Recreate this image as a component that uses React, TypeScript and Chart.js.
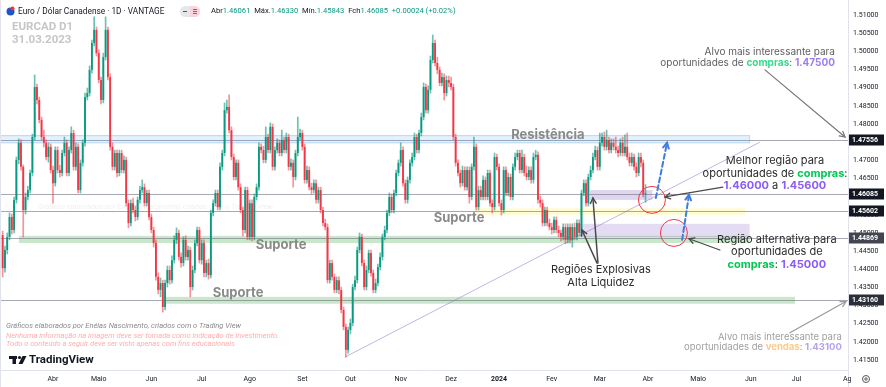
import React, { useEffect, useRef } from 'react';
import { Chart, registerables } from 'chart.js';
Chart.register(...registerables);

// ---- EURCAD daily candles (index = trading day from 2 Mar 2023) ----
const opens = [
  1.4494, 1.4403, 1.4453, 1.4489, 1.4544, 1.4508, 1.4591, 1.4701, 1.4748, 1.4682,
  1.4563, 1.4599, 1.4618, 1.4665, 1.4764, 1.4902, 1.4866, 1.4811, 1.4764, 1.4748,
  1.4709, 1.4737, 1.4673, 1.4637, 1.4728, 1.4673, 1.4665, 1.4720, 1.4748, 1.4665,
  1.4728, 1.4775, 1.4682, 1.4737, 1.4618, 1.4693, 1.4748, 1.4874, 1.4885, 1.4949,
  1.5023, 1.5059, 1.4995, 1.4921, 1.4866, 1.4984, 1.5059, 1.4929, 1.4737, 1.4682,
  1.4720, 1.4665, 1.4720, 1.4673, 1.4701, 1.4582, 1.4527, 1.4582, 1.4563, 1.4544,
  1.4591, 1.4618, 1.4626, 1.4582, 1.4610, 1.4544, 1.4508, 1.4472, 1.4379, 1.4343,
  1.4362, 1.4296, 1.4362, 1.4398, 1.4370, 1.4425, 1.4481, 1.4500, 1.4434, 1.4417,
  1.4481, 1.4434, 1.4453, 1.4351, 1.4398, 1.4472, 1.4508, 1.4425, 1.4472, 1.4390,
  1.4417, 1.4384, 1.4555, 1.4582, 1.4610, 1.4571, 1.4682, 1.4720, 1.4838, 1.4847,
  1.4783, 1.4709, 1.4654, 1.4693, 1.4626, 1.4563, 1.4508, 1.4618, 1.4489, 1.4582,
  1.4489, 1.4599, 1.4626, 1.4737, 1.4728, 1.4701, 1.4764, 1.4728, 1.4792, 1.4682,
  1.4728, 1.4748, 1.4720, 1.4756, 1.4728, 1.4764, 1.4682, 1.4693, 1.4654, 1.4720,
  1.4764, 1.4775, 1.4737, 1.4646, 1.4673, 1.4626, 1.4618, 1.4637, 1.4591, 1.4618,
  1.4563, 1.4527, 1.4516, 1.4370, 1.4417, 1.4379, 1.4343, 1.4370, 1.4343, 1.4288,
  1.4241, 1.4178, 1.4233, 1.4252, 1.4351, 1.4370, 1.4453, 1.4489, 1.4417, 1.4351,
  1.4398, 1.4445, 1.4390, 1.4343, 1.4362, 1.4406, 1.4434, 1.4489, 1.4508, 1.4555,
  1.4599, 1.4563, 1.4610, 1.4665, 1.4693, 1.4728, 1.4637, 1.4591, 1.4646, 1.4693,
  1.4709, 1.4764, 1.4728, 1.4775, 1.4819, 1.4902, 1.4838, 1.4894, 1.4976, 1.5023,
  1.4968, 1.4949, 1.4913, 1.4929, 1.4885, 1.4921, 1.4913, 1.4902, 1.4764, 1.4693,
  1.4665, 1.4637, 1.4673, 1.4626, 1.4673, 1.4599, 1.4682, 1.4737, 1.4571, 1.4618,
  1.4599, 1.4646, 1.4599, 1.4665, 1.4582, 1.4571, 1.4709, 1.4682, 1.4582, 1.4563,
  1.4673, 1.4610, 1.4654, 1.4599, 1.4682, 1.4709, 1.4720, 1.4673, 1.4709, 1.4665,
  1.4654, 1.4673, 1.4646, 1.4709, 1.4715, 1.4591, 1.4582, 1.4527, 1.4563, 1.4527,
  1.4516, 1.4508, 1.4536, 1.4508, 1.4500, 1.4489, 1.4516, 1.4481, 1.4516, 1.4481,
  1.4516, 1.4489, 1.4527, 1.4500, 1.4610, 1.4637, 1.4582, 1.4654, 1.4673, 1.4709,
  1.4728, 1.4682, 1.4748, 1.4764, 1.4737, 1.4756, 1.4728, 1.4748, 1.4737, 1.4728,
  1.4720, 1.4748, 1.4720, 1.4737, 1.4709, 1.4693, 1.4709, 1.4682, 1.4665, 1.4709,
  1.4693, 1.46061,
];
const highs = [
  1.4505, 1.4464, 1.4500, 1.4555, 1.4552, 1.4599, 1.4709, 1.4759, 1.4756, 1.4687,
  1.4610, 1.4629, 1.4673, 1.4772, 1.4935, 1.4910, 1.4874, 1.4819, 1.4783, 1.4756,
  1.4748, 1.4745, 1.4684, 1.4737, 1.4737, 1.4687, 1.4728, 1.4764, 1.4756, 1.4737,
  1.4792, 1.4783, 1.4748, 1.4745, 1.4701, 1.4756, 1.4885, 1.4899, 1.4960, 1.5031,
  1.5095, 1.5067, 1.5004, 1.4929, 1.4995, 1.5095, 1.5067, 1.4938, 1.4748, 1.4728,
  1.4728, 1.4728, 1.4728, 1.4712, 1.4709, 1.4591, 1.4591, 1.4596, 1.4574, 1.4599,
  1.4629, 1.4646, 1.4635, 1.4618, 1.4618, 1.4552, 1.4516, 1.4481, 1.4390, 1.4376,
  1.4370, 1.4370, 1.4409, 1.4409, 1.4437, 1.4492, 1.4514, 1.4508, 1.4445, 1.4489,
  1.4492, 1.4464, 1.4461, 1.4409, 1.4481, 1.4516, 1.4516, 1.4481, 1.4481, 1.4425,
  1.4428, 1.4563, 1.4591, 1.4618, 1.4618, 1.4693, 1.4728, 1.4858, 1.4866, 1.4880,
  1.4792, 1.4717, 1.4701, 1.4701, 1.4635, 1.4571, 1.4626, 1.4626, 1.4591, 1.4591,
  1.4607, 1.4635, 1.4748, 1.4745, 1.4739, 1.4792, 1.4772, 1.4803, 1.4800, 1.4737,
  1.4759, 1.4756, 1.4783, 1.4764, 1.4775, 1.4772, 1.4704, 1.4701, 1.4728, 1.4819,
  1.4786, 1.4783, 1.4745, 1.4684, 1.4682, 1.4637, 1.4646, 1.4646, 1.4626, 1.4626,
  1.4571, 1.4538, 1.4525, 1.4425, 1.4425, 1.4387, 1.4379, 1.4379, 1.4351, 1.4296,
  1.4249, 1.4241, 1.4263, 1.4359, 1.4381, 1.4461, 1.4500, 1.4497, 1.4425, 1.4409,
  1.4453, 1.4453, 1.4398, 1.4373, 1.4414, 1.4445, 1.4497, 1.4519, 1.4563, 1.4610,
  1.4607, 1.4618, 1.4673, 1.4701, 1.4748, 1.4737, 1.4646, 1.4654, 1.4701, 1.4720,
  1.4775, 1.4772, 1.4783, 1.4830, 1.4913, 1.4910, 1.4905, 1.4987, 1.5045, 1.5031,
  1.4984, 1.4957, 1.4940, 1.4938, 1.4932, 1.4932, 1.4929, 1.4910, 1.4772, 1.4701,
  1.4673, 1.4684, 1.4682, 1.4682, 1.4682, 1.4690, 1.4764, 1.4745, 1.4629, 1.4629,
  1.4657, 1.4654, 1.4673, 1.4673, 1.4591, 1.4720, 1.4717, 1.4690, 1.4591, 1.4682,
  1.4682, 1.4665, 1.4662, 1.4690, 1.4720, 1.4728, 1.4728, 1.4728, 1.4717, 1.4684,
  1.4682, 1.4682, 1.4720, 1.4728, 1.4723, 1.4602, 1.4591, 1.4571, 1.4571, 1.4538,
  1.4527, 1.4544, 1.4544, 1.4519, 1.4508, 1.4525, 1.4525, 1.4525, 1.4525, 1.4525,
  1.4527, 1.4536, 1.4536, 1.4618, 1.4646, 1.4646, 1.4662, 1.4684, 1.4720, 1.4739,
  1.4737, 1.4775, 1.4775, 1.4778, 1.4783, 1.4764, 1.4759, 1.4759, 1.4764, 1.4739,
  1.4759, 1.4764, 1.4770, 1.4775, 1.4720, 1.4720, 1.4717, 1.4693, 1.4720, 1.4720,
  1.4701, 1.46330,
];
const lows = [
  1.4379, 1.4392, 1.4442, 1.4481, 1.4497, 1.4500, 1.4582, 1.4690, 1.4673, 1.4489,
  1.4552, 1.4591, 1.4610, 1.4657, 1.4756, 1.4855, 1.4803, 1.4756, 1.4737, 1.4701,
  1.4695, 1.4665, 1.4582, 1.4629, 1.4665, 1.4654, 1.4657, 1.4712, 1.4657, 1.4657,
  1.4720, 1.4673, 1.4673, 1.4610, 1.4610, 1.4684, 1.4739, 1.4866, 1.4877, 1.4940,
  1.5015, 1.4987, 1.4913, 1.4855, 1.4858, 1.4976, 1.4921, 1.4728, 1.4673, 1.4673,
  1.4654, 1.4657, 1.4665, 1.4665, 1.4574, 1.4514, 1.4519, 1.4555, 1.4533, 1.4536,
  1.4582, 1.4610, 1.4574, 1.4574, 1.4536, 1.4500, 1.4461, 1.4370, 1.4332, 1.4324,
  1.4282, 1.4288, 1.4351, 1.4359, 1.4362, 1.4417, 1.4470, 1.4425, 1.4406, 1.4409,
  1.4425, 1.4425, 1.4324, 1.4343, 1.4390, 1.4464, 1.4417, 1.4414, 1.4379, 1.4379,
  1.4373, 1.4376, 1.4547, 1.4574, 1.4563, 1.4563, 1.4673, 1.4712, 1.4830, 1.4775,
  1.4701, 1.4646, 1.4646, 1.4618, 1.4555, 1.4492, 1.4500, 1.4481, 1.4481, 1.4478,
  1.4481, 1.4591, 1.4618, 1.4720, 1.4693, 1.4693, 1.4720, 1.4720, 1.4673, 1.4673,
  1.4720, 1.4712, 1.4712, 1.4720, 1.4720, 1.4673, 1.4673, 1.4626, 1.4646, 1.4712,
  1.4756, 1.4728, 1.4637, 1.4637, 1.4618, 1.4607, 1.4610, 1.4582, 1.4582, 1.4555,
  1.4519, 1.4508, 1.4362, 1.4362, 1.4370, 1.4335, 1.4335, 1.4332, 1.4280, 1.4233,
  1.4158, 1.4169, 1.4222, 1.4244, 1.4343, 1.4362, 1.4445, 1.4409, 1.4343, 1.4343,
  1.4390, 1.4381, 1.4335, 1.4335, 1.4354, 1.4398, 1.4425, 1.4481, 1.4500, 1.4547,
  1.4555, 1.4555, 1.4602, 1.4657, 1.4684, 1.4629, 1.4582, 1.4582, 1.4637, 1.4684,
  1.4701, 1.4720, 1.4720, 1.4767, 1.4811, 1.4830, 1.4830, 1.4885, 1.4968, 1.4960,
  1.4938, 1.4905, 1.4905, 1.4866, 1.4877, 1.4902, 1.4894, 1.4756, 1.4684, 1.4657,
  1.4626, 1.4629, 1.4618, 1.4618, 1.4582, 1.4591, 1.4673, 1.4563, 1.4563, 1.4591,
  1.4591, 1.4591, 1.4591, 1.4574, 1.4555, 1.4563, 1.4673, 1.4574, 1.4549, 1.4555,
  1.4602, 1.4602, 1.4591, 1.4591, 1.4673, 1.4701, 1.4665, 1.4665, 1.4657, 1.4646,
  1.4646, 1.4637, 1.4637, 1.4701, 1.4582, 1.4571, 1.4519, 1.4519, 1.4519, 1.4508,
  1.4497, 1.4500, 1.4500, 1.4489, 1.4478, 1.4481, 1.4470, 1.4472, 1.4472, 1.4461,
  1.4481, 1.4481, 1.4492, 1.4492, 1.4602, 1.4574, 1.4574, 1.4646, 1.4665, 1.4701,
  1.4673, 1.4673, 1.4739, 1.4728, 1.4728, 1.4720, 1.4720, 1.4728, 1.4720, 1.4709,
  1.4712, 1.4712, 1.4712, 1.4701, 1.4684, 1.4684, 1.4673, 1.4654, 1.4657, 1.4682,
  1.4599, 1.45843,
];
const closes = [
  1.4403, 1.4453, 1.4489, 1.4544, 1.4508, 1.4591, 1.4701, 1.4748, 1.4682, 1.4563,
  1.4599, 1.4618, 1.4665, 1.4764, 1.4902, 1.4866, 1.4811, 1.4764, 1.4748, 1.4709,
  1.4737, 1.4673, 1.4637, 1.4728, 1.4673, 1.4665, 1.4720, 1.4748, 1.4665, 1.4728,
  1.4775, 1.4682, 1.4737, 1.4618, 1.4693, 1.4748, 1.4874, 1.4885, 1.4949, 1.5023,
  1.5059, 1.4995, 1.4921, 1.4866, 1.4984, 1.5059, 1.4929, 1.4737, 1.4682, 1.4720,
  1.4665, 1.4720, 1.4673, 1.4701, 1.4582, 1.4527, 1.4582, 1.4563, 1.4544, 1.4591,
  1.4618, 1.4626, 1.4582, 1.4610, 1.4544, 1.4508, 1.4472, 1.4379, 1.4343, 1.4362,
  1.4296, 1.4362, 1.4398, 1.4370, 1.4425, 1.4481, 1.4500, 1.4434, 1.4417, 1.4481,
  1.4434, 1.4453, 1.4351, 1.4398, 1.4472, 1.4508, 1.4425, 1.4472, 1.4390, 1.4417,
  1.4384, 1.4555, 1.4582, 1.4610, 1.4571, 1.4682, 1.4720, 1.4838, 1.4847, 1.4783,
  1.4709, 1.4654, 1.4693, 1.4626, 1.4563, 1.4508, 1.4618, 1.4489, 1.4582, 1.4489,
  1.4599, 1.4626, 1.4737, 1.4728, 1.4701, 1.4764, 1.4728, 1.4792, 1.4682, 1.4728,
  1.4748, 1.4720, 1.4756, 1.4728, 1.4764, 1.4682, 1.4693, 1.4654, 1.4720, 1.4764,
  1.4775, 1.4737, 1.4646, 1.4673, 1.4626, 1.4618, 1.4637, 1.4591, 1.4618, 1.4563,
  1.4527, 1.4516, 1.4370, 1.4417, 1.4379, 1.4343, 1.4370, 1.4343, 1.4288, 1.4241,
  1.4178, 1.4233, 1.4252, 1.4351, 1.4370, 1.4453, 1.4489, 1.4417, 1.4351, 1.4398,
  1.4445, 1.4390, 1.4343, 1.4362, 1.4406, 1.4434, 1.4489, 1.4508, 1.4555, 1.4599,
  1.4563, 1.4610, 1.4665, 1.4693, 1.4728, 1.4637, 1.4591, 1.4646, 1.4693, 1.4709,
  1.4764, 1.4728, 1.4775, 1.4819, 1.4902, 1.4838, 1.4894, 1.4976, 1.5023, 1.4968,
  1.4949, 1.4913, 1.4929, 1.4885, 1.4921, 1.4913, 1.4902, 1.4764, 1.4693, 1.4665,
  1.4637, 1.4673, 1.4626, 1.4673, 1.4599, 1.4682, 1.4737, 1.4571, 1.4618, 1.4599,
  1.4646, 1.4599, 1.4665, 1.4582, 1.4571, 1.4709, 1.4682, 1.4582, 1.4563, 1.4673,
  1.4610, 1.4654, 1.4599, 1.4682, 1.4709, 1.4720, 1.4673, 1.4709, 1.4665, 1.4654,
  1.4673, 1.4646, 1.4709, 1.4715, 1.4591, 1.4582, 1.4527, 1.4563, 1.4527, 1.4516,
  1.4508, 1.4536, 1.4508, 1.4500, 1.4489, 1.4516, 1.4481, 1.4516, 1.4481, 1.4516,
  1.4489, 1.4527, 1.4500, 1.4610, 1.4637, 1.4582, 1.4654, 1.4673, 1.4709, 1.4728,
  1.4682, 1.4748, 1.4764, 1.4737, 1.4756, 1.4728, 1.4748, 1.4737, 1.4728, 1.4720,
  1.4748, 1.4720, 1.4737, 1.4709, 1.4693, 1.4709, 1.4682, 1.4665, 1.4709, 1.4693,
  1.4606, 1.46085,
];

// time axis: index of first trading day of each month, and its label
const monthStarts = [22, 42, 65, 87, 108, 131, 152, 174, 196, 217, 240, 261, 282, 304, 327, 347];
const monthLabels = ['Abr', 'Maio', 'Jun', 'Jul', 'Ago', 'Set', 'Out', 'Nov', 'Dez', '2024', 'Fev', 'Mar', 'Abr', 'Maio', 'Jun', 'Jul'];
const yTicks = [1.415, 1.42, 1.425, 1.43, 1.435, 1.44, 1.445, 1.45, 1.455, 1.46, 1.465, 1.47, 1.475, 1.48, 1.485, 1.49, 1.495, 1.5, 1.505, 1.51];
const levelPrices = [1.47556, 1.46085, 1.45602, 1.44869, 1.4316];

const UP = '#089981';
const DOWN = '#f23645';
const X_MIN = -1.16;
const X_MAX = 369.5;
const Y_MIN = 1.41226;
const Y_MAX = 1.51413;

type Seg = { t: string; c: string; b?: boolean };
const sg = (t: string, c: string, b = false): Seg => ({ t, c, b });

function rich(ctx: CanvasRenderingContext2D, segs: Seg[], x: number, y: number, align: 'left' | 'center' | 'right', size: number, family = 'Inter', italic = false) {
  const f = (b?: boolean) => `${italic ? 'italic ' : ''}${b ? '700' : '400'} ${size}px ${family}`;
  let w = 0;
  segs.forEach((s) => { ctx.font = f(s.b); w += ctx.measureText(s.t).width; });
  let cx = align === 'left' ? x : align === 'center' ? x - w / 2 : x - w;
  ctx.textAlign = 'left';
  ctx.textBaseline = 'middle';
  segs.forEach((s) => {
    ctx.font = f(s.b);
    ctx.fillStyle = s.c;
    ctx.fillText(s.t, cx, y);
    cx += ctx.measureText(s.t).width;
  });
}

function arrow(ctx: CanvasRenderingContext2D, x0: number, y0: number, x1: number, y1: number, color: string, lw: number, dash: number[], head: number) {
  ctx.save();
  ctx.strokeStyle = color;
  ctx.lineWidth = lw;
  ctx.lineCap = 'round';
  ctx.setLineDash(dash);
  ctx.beginPath();
  ctx.moveTo(x0, y0);
  ctx.lineTo(x1, y1);
  ctx.stroke();
  ctx.setLineDash([]);
  const a = Math.atan2(y1 - y0, x1 - x0);
  ctx.beginPath();
  ctx.moveTo(x1 - head * Math.cos(a - 0.5), y1 - head * Math.sin(a - 0.5));
  ctx.lineTo(x1, y1);
  ctx.lineTo(x1 - head * Math.cos(a + 0.5), y1 - head * Math.sin(a + 0.5));
  ctx.stroke();
  ctx.restore();
}

const drawings = {
  id: 'drawings',
  beforeDatasetsDraw(chart: any) {
    const { ctx, chartArea: a, scales } = chart;
    const X = (v: number) => scales.x.getPixelForValue(v);
    const Y = (v: number) => scales.y.getPixelForValue(v);
    ctx.save();
    ctx.beginPath();
    ctx.rect(a.left, a.top, a.right - a.left, a.bottom - a.top);
    ctx.clip();

    ctx.font = 'italic 7.5px Roboto';
    ctx.fillStyle = 'rgba(0,0,0,0.07)';
    ctx.textAlign = 'left';
    ctx.textBaseline = 'middle';
    ctx.fillText('Gráficos elaborados por Enéias Nascimento, criados com o Trading View', 38, 207);

    const zones = [
      { i0: X_MIN, i1: 326.5, p0: 1.4768, p1: 1.4748, fill: 'rgba(33,150,243,0.13)', stroke: 'rgba(33,150,243,0.3)' },
      { i0: 7.1, i1: 326.5, p0: 1.4492, p1: 1.4472, fill: 'rgba(76,175,80,0.3)', stroke: '' },
      { i0: 71, i1: 346.3, p0: 1.4324, p1: 1.4305, fill: 'rgba(76,175,80,0.3)', stroke: '' },
      { i0: 206.4, i1: 324.5, p0: 1.4568, p1: 1.4549, fill: 'rgba(255,235,59,0.22)', stroke: '' },
      { i0: 256.7, i1: 284, p0: 1.4618, p1: 1.4591, fill: 'rgba(149,117,205,0.3)', stroke: '' },
      { i0: 252.3, i1: 326.5, p0: 1.4525, p1: 1.4489, fill: 'rgba(149,117,205,0.25)', stroke: '' },
    ];
    zones.forEach((z) => {
      const x0 = X(z.i0), x1 = X(z.i1), y0 = Y(z.p0), y1 = Y(z.p1);
      ctx.fillStyle = z.fill;
      ctx.fillRect(x0, y0, x1 - x0, y1 - y0);
      if (z.stroke) {
        ctx.strokeStyle = z.stroke;
        ctx.lineWidth = 1;
        ctx.strokeRect(x0, y0, x1 - x0, y1 - y0);
      }
    });

    levelPrices.forEach((p) => {
      const yy = Math.round(Y(p)) + 0.5;
      ctx.strokeStyle = 'rgba(120,123,134,0.65)';
      ctx.lineWidth = 1;
      ctx.beginPath();
      ctx.moveTo(a.left, yy);
      ctx.lineTo(a.right, yy);
      ctx.stroke();
    });

    ctx.strokeStyle = 'rgba(149,117,205,0.55)';
    ctx.lineWidth = 1;
    ctx.beginPath();
    ctx.moveTo(X(149.6), Y(1.4158));
    ctx.lineTo(X(331), Y(1.475));
    ctx.stroke();
    ctx.restore();
  },
  afterDatasetsDraw(chart: any) {
    const { ctx, scales } = chart;
    const X = (v: number) => scales.x.getPixelForValue(v);
    const Y = (v: number) => scales.y.getPixelForValue(v);
    ctx.save();

    ctx.strokeStyle = '#f23645';
    ctx.lineWidth = 1;
    [[283.8, 1.4591], [293.4, 1.45]].forEach(([i, p]) => {
      ctx.beginPath();
      ctx.arc(X(i), Y(p), 13.5, 0, Math.PI * 2);
      ctx.stroke();
    });

    arrow(ctx, X(285.5), Y(1.4596), X(290.4), Y(1.4748), '#3f7be0', 2, [5, 3], 6);
    arrow(ctx, X(297.0), Y(1.4481), X(300.0), Y(1.4605), '#3f7be0', 2, [5, 3], 6);

    const g = '#4a4a4a';
    arrow(ctx, X(314.8), Y(1.4626), X(289.5), Y(1.4599), g, 1.3, [], 6);
    arrow(ctx, X(313.5), Y(1.4453), X(300.0), Y(1.4484), g, 1.3, [], 6);
    arrow(ctx, X(333.2), Y(1.4949), X(368.2), Y(1.4764), '#777', 1.2, [], 6);
    arrow(ctx, X(344.1), Y(1.4225), X(368.6), Y(1.4311), '#999', 1.2, [], 6);
    arrow(ctx, X(260.2), Y(1.4417), X(258.0), Y(1.4596), g, 1.5, [], 6);
    arrow(ctx, X(259.8), Y(1.4417), X(253.2), Y(1.4508), g, 1.5, [], 6);

    const lab = (t: string, i: number, p: number) => rich(ctx, [sg(t, '#8a8a8a', true)], X(i), Y(p), 'center', 13);
    lab('Resistência', 238.3, 1.477);
    lab('Suporte', 121.7, 1.4467);
    lab('Suporte', 102.9, 1.4335);
    lab('Suporte', 199.5, 1.4542);

    const dark = '#2b2b2b';
    const green = '#00c853';
    const purple = '#8b5cf6';
    rich(ctx, [sg('Alvo mais interessante para', '#5f5f5f')], X(363.8), Y(1.4999), 'right', 10);
    rich(ctx, [sg('oportunidades de ', '#5f5f5f'), sg('compras', '#37d98a', true), sg(': ', '#5f5f5f'), sg('1.47500', '#9b7cf5', true)], X(363.8), Y(1.4968), 'right', 10);
    rich(ctx, [sg('Melhor região para', dark)], X(337.6), Y(1.4699), 'center', 11);
    rich(ctx, [sg('oportunidades de ', dark), sg('compras', green, true), sg(':', dark)], X(337.6), Y(1.4664), 'center', 11);
    rich(ctx, [sg('1.46000', purple, true), sg(' a ', dark), sg('1.45600', purple, true)], X(337.6), Y(1.4629), 'center', 11);
    rich(ctx, [sg('Região alternativa para', dark)], X(338.4), Y(1.4481), 'center', 11);
    rich(ctx, [sg('oportunidades de', dark)], X(338.4), Y(1.4448), 'center', 11);
    rich(ctx, [sg('compras', green, true), sg(': ', dark), sg('1.45000', purple, true)], X(338.4), Y(1.4412), 'center', 11);
    rich(ctx, [sg('Regiões Explosivas', dark)], X(261.5), Y(1.4398), 'center', 11);
    rich(ctx, [sg('Alta Liquidez', dark)], X(261.5), Y(1.4362), 'center', 11);
    rich(ctx, [sg('Alvo mais interessante para', '#a0a0a0')], X(366.8), Y(1.4214), 'right', 9.5);
    rich(ctx, [sg('oportunidades de ', '#a0a0a0'), sg('vendas', '#ffc98a', true), sg(': ', '#a0a0a0'), sg('1.43100', '#b7a3f2', true)], X(366.8), Y(1.4186), 'right', 9.5);
    ctx.restore();
  },
  afterDraw(chart: any) {
    const { ctx, chartArea: a, scales } = chart;
    const Y = (v: number) => scales.y.getPixelForValue(v);
    ctx.save();
    const boxColors = ['#131722', '#131722', '#131722', '#434651', '#2a2e39'];
    levelPrices.forEach((p, k) => {
      const yy = Math.round(Y(p));
      ctx.fillStyle = boxColors[k];
      ctx.fillRect(a.right + 1, yy - 5.5, 35, 11);
      ctx.fillStyle = '#fff';
      ctx.font = '700 7px Roboto';
      ctx.textAlign = 'left';
      ctx.textBaseline = 'middle';
      ctx.fillText(p.toFixed(5), a.right + 4, yy + 0.5);
    });
    ctx.strokeStyle = '#e0e3eb';
    ctx.lineWidth = 1;
    ctx.beginPath();
    ctx.moveTo(a.right + 0.5, a.bottom);
    ctx.lineTo(a.right + 0.5, 387);
    ctx.moveTo(0.5, 0);
    ctx.lineTo(0.5, 387);
    ctx.stroke();
    ctx.save();
    ctx.beginPath();
    ctx.rect(0, a.bottom, a.right + 3, 20);
    ctx.clip();
    ctx.font = '7px Roboto';
    ctx.fillStyle = '#131722';
    ctx.textAlign = 'center';
    ctx.textBaseline = 'middle';
    ctx.fillText('Ago', scales.x.getPixelForValue(370), 379);
    ctx.restore();
    ctx.strokeStyle = '#555';
    ctx.beginPath();
    ctx.arc(866, 379, 3.5, 0, Math.PI * 2);
    ctx.stroke();
    ctx.beginPath();
    ctx.arc(866, 379, 1.2, 0, Math.PI * 2);
    ctx.stroke();

    ctx.fillStyle = '#1e56c8';
    ctx.beginPath();
    ctx.arc(10.5, 11.5, 4, 0, Math.PI * 2);
    ctx.fill();
    ctx.fillStyle = '#e53935';
    ctx.beginPath();
    ctx.arc(12.5, 8.5, 2, 0, Math.PI * 2);
    ctx.fill();
    rich(ctx, [sg('Euro / Dólar Canadense · 1D · VANTAGE', '#131722')], 18, 11.5, 'left', 8.3, 'Roboto');
    ctx.fillStyle = '#e6e7eb';
    ctx.beginPath();
    ctx.roundRect(180, 6, 20, 11, 5.5);
    ctx.fill();
    ctx.fillStyle = '#fbd3dc';
    ctx.beginPath();
    ctx.roundRect(190, 6, 10, 11, [0, 5.5, 5.5, 0]);
    ctx.fill();
    ctx.fillStyle = '#555';
    ctx.fillRect(183, 11, 4, 1);
    ctx.fillStyle = '#f23645';
    ctx.fillRect(193, 9, 4, 1);
    ctx.fillRect(193, 11, 4, 1);
    ctx.fillRect(193, 13, 4, 1);
    const dk = '#131722';
    rich(ctx, [sg('Abr', dk), sg('1.46061', UP), sg('  Máx.', dk), sg('1.46330', UP), sg('  Mín.', dk), sg('1.45843', UP), sg('  Fch', dk), sg('1.46085', UP), sg('  +0.00024 (+0.02%)', UP)], 211, 11.5, 'left', 7.6, 'Roboto');
    rich(ctx, [sg('EURCAD D1', '#c6c6c6', true)], 12, 27, 'left', 11.5, 'Roboto');
    rich(ctx, [sg('31.03.2023', '#c6c6c6', true)], 12, 40, 'left', 11.5, 'Roboto');

    rich(ctx, [sg('Gráficos elaborados por Enéias Nascimento, criados com o Trading View', '#8a8a8a')], 6, 326, 'left', 7.5, 'Roboto', true);
    rich(ctx, [sg('Nenhuma informação na imagem deve ser tomada como indicação de investimento.', '#ffadad')], 6, 336.5, 'left', 7.5, 'Roboto', true);
    rich(ctx, [sg('Todo o conteúdo a seguir deve ser visto apenas com fins educacionais', '#ffadad')], 6, 344, 'left', 7.5, 'Roboto', true);
    ctx.fillStyle = '#131722';
    ctx.fillRect(9, 356, 8, 3);
    ctx.fillRect(12.5, 356, 3.5, 8);
    ctx.beginPath();
    ctx.arc(19.5, 357.5, 1.6, 0, Math.PI * 2);
    ctx.fill();
    ctx.beginPath();
    ctx.moveTo(22.5, 356);
    ctx.lineTo(26.5, 356);
    ctx.lineTo(22.5, 364);
    ctx.lineTo(18.5, 364);
    ctx.closePath();
    ctx.fill();
    rich(ctx, [sg('TradingView', '#131722', true)], 29, 360, 'left', 11.5, 'Roboto');
    ctx.restore();
  },
};

export default function App() {
  const ref = useRef<HTMLCanvasElement>(null);
  useEffect(() => {
    const idx = closes.map((_, i) => i);
    const col = idx.map((i) => (closes[i] >= opens[i] ? UP : DOWN));
    const wickCol = idx.map((i) => (closes[i] >= opens[i] ? 'rgba(8,153,129,0.6)' : 'rgba(242,54,69,0.55)'));
    const chart = new Chart(ref.current as HTMLCanvasElement, {
      type: 'bar',
      data: {
        datasets: [
          {
            label: 'body',
            data: idx.map((i) => ({ x: i, y: [opens[i], closes[i]] })) as any,
            backgroundColor: col,
            borderWidth: 0,
            grouped: false,
            categoryPercentage: 1,
            barPercentage: 0.8,
            minBarLength: 1,
          },
          {
            label: 'wick',
            data: idx.map((i) => ({ x: i, y: [lows[i], highs[i]] })) as any,
            backgroundColor: wickCol,
            borderWidth: 0,
            grouped: false,
            barThickness: 1,
          },
        ],
      },
      options: {
        responsive: false,
        animation: false,
        events: [],
        layout: { padding: 0 },
        plugins: { legend: { display: false }, tooltip: { enabled: false }, title: { display: false } },
        scales: {
          x: {
            type: 'linear',
            min: X_MIN,
            max: X_MAX,
            offset: false,
            grid: { display: false, drawTicks: false },
            border: { display: true, color: '#e0e3eb' },
            afterBuildTicks: (s: any) => {
              s.ticks = monthStarts.filter((v) => v >= s.min && v <= s.max).map((v) => ({ value: v }));
            },
            afterFit: (s: any) => {
              s.height = 17;
              s.paddingLeft = 0;
              s.paddingRight = 0;
            },
            ticks: {
              autoSkip: false,
              maxRotation: 0,
              padding: 5,
              color: '#131722',
              font: (c: any) => ({ size: 7, family: 'Roboto', weight: c.tick && c.tick.value === 217 ? 'bold' : 'normal' }),
              callback: (v: any) => monthLabels[monthStarts.indexOf(Number(v))] ?? '',
            },
          },
          y: {
            type: 'linear',
            position: 'right',
            min: Y_MIN,
            max: Y_MAX,
            beginAtZero: false,
            grid: { display: false, drawTicks: false },
            border: { display: true, color: '#e0e3eb' },
            afterBuildTicks: (s: any) => {
              s.ticks = yTicks.map((v) => ({ value: v }));
            },
            afterFit: (s: any) => {
              s.width = 38;
              s.paddingTop = 0;
              s.paddingBottom = 0;
            },
            ticks: {
              padding: 5,
              color: '#131722',
              font: { size: 7, family: 'Roboto' },
              callback: (v: any) => Number(v).toFixed(5),
            },
          },
        },
      },
      plugins: [drawings],
    });
    return () => chart.destroy();
  }, []);
  return (
    <div style={{ position: 'fixed', left: 0, top: 0, width: 886, height: 387, background: '#fff' }}>
      <canvas ref={ref} width={886} height={387} style={{ display: 'block', width: 886, height: 387 }} />
    </div>
  );
}
